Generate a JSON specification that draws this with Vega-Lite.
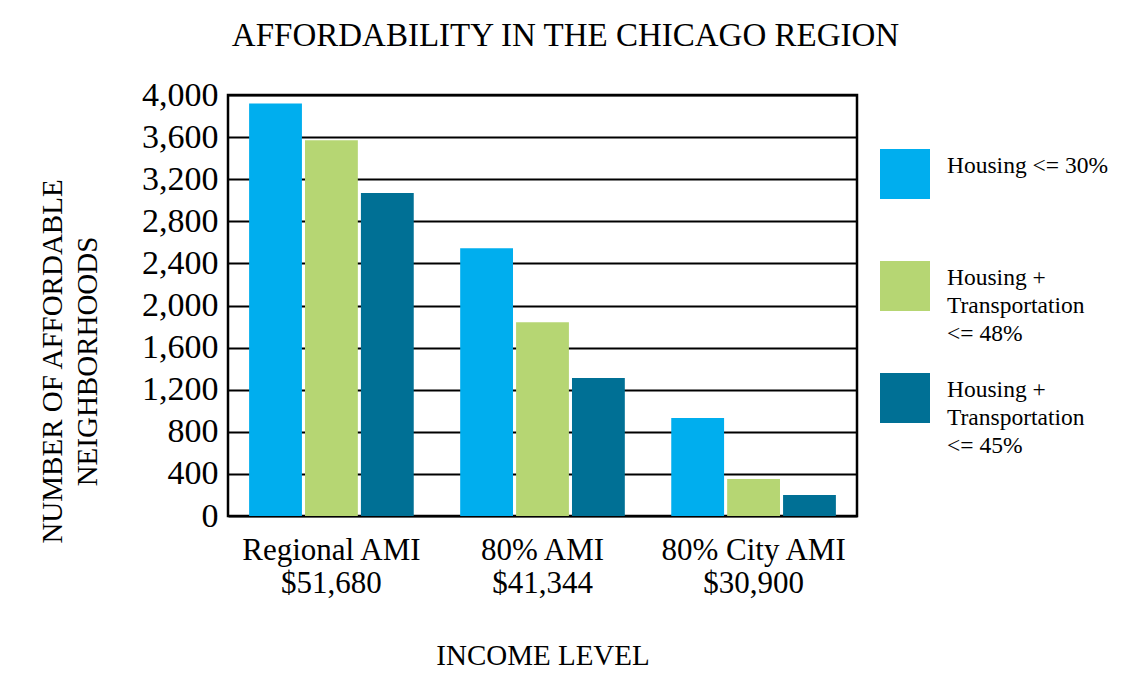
{
  "$schema": "https://vega.github.io/schema/vega-lite/v6.json",
  "width": 629,
  "height": 421,
  "autosize": {"type": "none"},
  "padding": {"left": 228, "top": 95, "right": 277, "bottom": 163},
  "background": "white",
  "title": {
    "text": "AFFORDABILITY IN THE CHICAGO REGION",
    "font": "Liberation Serif",
    "fontSize": 33,
    "fontWeight": "normal",
    "color": "black",
    "anchor": "middle",
    "offset": 25,
    "dx": 23
  },
  "data": {
    "values": [
      {"income": "Regional AMI|$51,680", "measure": "Housing <= 30%", "count": 3920},
      {"income": "Regional AMI|$51,680", "measure": "Housing + Transportation <= 48%", "count": 3570},
      {"income": "Regional AMI|$51,680", "measure": "Housing + Transportation <= 45%", "count": 3068},
      {"income": "80% AMI|$41,344", "measure": "Housing <= 30%", "count": 2545},
      {"income": "80% AMI|$41,344", "measure": "Housing + Transportation <= 48%", "count": 1842},
      {"income": "80% AMI|$41,344", "measure": "Housing + Transportation <= 45%", "count": 1310},
      {"income": "80% City AMI|$30,900", "measure": "Housing <= 30%", "count": 930},
      {"income": "80% City AMI|$30,900", "measure": "Housing + Transportation <= 48%", "count": 352},
      {"income": "80% City AMI|$30,900", "measure": "Housing + Transportation <= 45%", "count": 200}
    ]
  },
  "mark": {"type": "bar"},
  "encoding": {
    "x": {
      "field": "income",
      "type": "nominal",
      "sort": ["Regional AMI|$51,680", "80% AMI|$41,344", "80% City AMI|$30,900"],
      "scale": {"paddingInner": 0.22, "paddingOuter": 0.1},
      "axis": {
        "labelExpr": "split(datum.label, '|')",
        "labelAngle": 0,
        "labelFont": "Liberation Serif",
        "labelFontSize": 31,
        "labelLineHeight": 33,
        "labelColor": "black",
        "labelPadding": 19,
        "labelLimit": 400,
        "ticks": false,
        "domain": false,
        "title": "INCOME LEVEL",
        "titleFont": "Liberation Serif",
        "titleFontSize": 29,
        "titleFontWeight": "normal",
        "titleColor": "black",
        "titleBaseline": "middle",
        "titleY": 139
      }
    },
    "xOffset": {
      "field": "measure",
      "type": "nominal",
      "sort": ["Housing <= 30%", "Housing + Transportation <= 48%", "Housing + Transportation <= 45%"],
      "scale": {"paddingInner": 0.055}
    },
    "y": {
      "field": "count",
      "type": "quantitative",
      "scale": {"domain": [0, 4000]},
      "axis": {
        "values": [0, 400, 800, 1200, 1600, 2000, 2400, 2800, 3200, 3600, 4000],
        "format": ",.0f",
        "grid": true,
        "gridColor": "black",
        "gridWidth": 2,
        "gridOpacity": 1,
        "ticks": false,
        "domain": false,
        "labelFont": "Liberation Serif",
        "labelFontSize": 34,
        "labelColor": "black",
        "labelPadding": 10,
        "title": ["NUMBER OF AFFORDABLE", "NEIGHBORHOODS"],
        "titleFont": "Liberation Serif",
        "titleFontSize": 29,
        "titleFontWeight": "normal",
        "titleColor": "black",
        "titleLineHeight": 35,
        "titleAngle": -90,
        "titleAlign": "center",
        "titleBaseline": "bottom",
        "titleX": -161,
        "titleY": 266
      }
    },
    "color": {
      "field": "measure",
      "type": "nominal",
      "scale": {
        "domain": ["Housing <= 30%", "Housing + Transportation <= 48%", "Housing + Transportation <= 45%"],
        "range": ["#00AEEE", "#B6D673", "#007095"]
      },
      "legend": {
        "orient": "none",
        "legendX": 652,
        "legendY": 54,
        "title": null,
        "symbolType": "square",
        "symbolSize": 2500,
        "symbolStrokeWidth": 0,
        "symbolOpacity": 1,
        "labelFont": "Liberation Serif",
        "labelFontSize": 23.5,
        "labelColor": "black",
        "labelOffset": 17,
        "labelLimit": 300,
        "rowPadding": 27,
        "labelExpr": "datum.label == 'Housing <= 30%' ? ['Housing <= 30%', ' ', ' '] : (datum.label == 'Housing + Transportation <= 48%' ? ['Housing +', 'Transportation', '<= 48%'] : ['Housing +', 'Transportation', '<= 45%'])",
        "encode": {"labels": {"update": {"lineHeight": {"value": 28}, "dy": {"value": -8}}}}
      }
    }
  },
  "config": {
    "view": {"stroke": "black", "strokeWidth": 2.5}
  }
}
